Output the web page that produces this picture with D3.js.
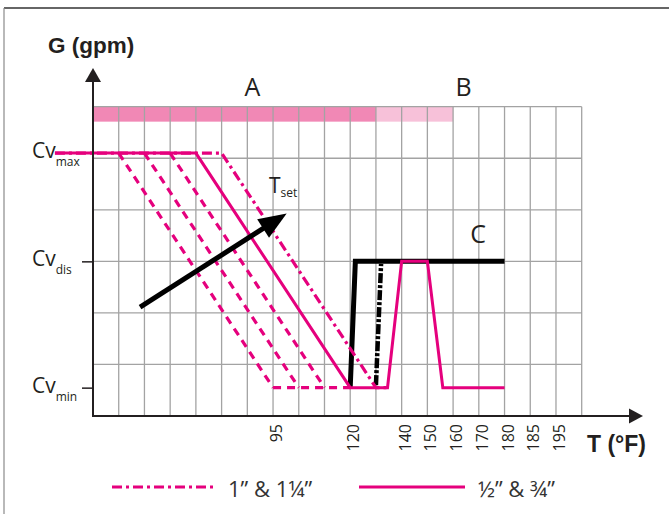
<!DOCTYPE html>
<html>
<head>
<meta charset="utf-8">
<script src="https://cdn.jsdelivr.net/npm/d3@7"></script>
<style>
  body { margin: 0; background: #fff; }
  svg { display: block; }
</style>
</head>
<body>
<svg id="chart"></svg>
<script>
// grid columns (the temperature axis is not linear, so x is in column units)
const nCols = 19;
const nRows = 6;
const tickCols = [7, 10, 12, 13, 14, 15, 16, 17, 18];
const tickLabels = ["95", "120", "140", "150", "160", "170", "180", "185", "195"];

// flow levels, in row units
const cvMin = 0.55;
const cvDis = 3;
const cvMax = 5.1;

// zone bands along the top: [fromCol, toCol]
const bandA = [0, 11];
const bandB = [11, 14];

// curves as [column, level]
const solidPink = [[-1.48, cvMax], [4, cvMax], [10, cvMin], [11.45, cvMin], [12, cvDis], [13, cvDis], [13.6, cvMin], [16, cvMin]];
const dashDotPink = [[-1.48, cvMax], [5, cvMax], [11, cvMin], [11.45, cvMin]];
const tsetLines = [
    [[1, cvMax], [7, cvMin]],
    [[2, cvMax], [8, cvMin]],
    [[3, cvMax], [9, cvMin]],
    [[7, cvMin], [10, cvMin]]
];
const blackSolid = [[10, cvMin], [10.2, cvDis], [16, cvDis]];
const blackDashDot = [[11, cvMin + 0.05], [11.2, cvDis - 0.05]];
const tsetArrow = [[1.83, 2.11], [7.53, 3.93]];

const pink = "#e5007d";
const ink = "#231f20";

var svg = d3.select("#chart")
    .attr("width", 669)
    .attr("height", 514);

var x = d3.scaleLinear().domain([0, nCols]).range([93, 581.7]);
var y = d3.scaleLinear().domain([0, nRows]).range([416, 106.7]);
var line = d3.line().x(d => x(d[0])).y(d => y(d[1]));

// outer frame (top and left only)
svg.append("line").attr("x1", 4).attr("x2", 669).attr("y1", 8).attr("y2", 8)
    .attr("stroke", "#333").attr("stroke-width", 1.5);
svg.append("line").attr("x1", 4).attr("x2", 4).attr("y1", 8).attr("y2", 514)
    .attr("stroke", "#8a8a8a").attr("stroke-width", 1.2);

// bands
svg.append("rect")
    .attr("x", x(bandA[0])).attr("width", x(bandA[1]) - x(bandA[0]))
    .attr("y", y(6)).attr("height", y(5.71) - y(6))
    .attr("fill", "#f188b5");
svg.append("rect")
    .attr("x", x(bandB[0])).attr("width", x(bandB[1]) - x(bandB[0]))
    .attr("y", y(6)).attr("height", y(5.71) - y(6))
    .attr("fill", "#f7c1d9");

// grid
var grid = svg.append("g").attr("stroke", "#a3a3a3").attr("stroke-width", 1.3);
grid.selectAll(".v").data(d3.range(1, nCols + 1)).enter().append("line")
    .attr("x1", d => x(d)).attr("x2", d => x(d))
    .attr("y1", y(nRows)).attr("y2", y(0));
grid.selectAll(".h").data(d3.range(1, nRows + 1)).enter().append("line")
    .attr("x1", x(0)).attr("x2", x(nCols))
    .attr("y1", d => y(d)).attr("y2", d => y(d));

// x tick labels
var xAxis = svg.append("g")
    .attr("transform", "translate(0," + y(0) + ")")
    .call(d3.axisBottom(x)
        .tickValues(tickCols)
        .tickFormat((d, i) => tickLabels[i])
        .tickSize(0));
xAxis.select(".domain").remove();
xAxis.selectAll("text")
    .attr("font-family", "'Open Sans', sans-serif")
    .attr("font-size", 16)
    .attr("fill", ink)
    .attr("text-anchor", "end")
    .attr("transform", "translate(3,8) rotate(-90)")
    .attr("x", 0).attr("y", 0).attr("dy", "0.35em");

// y ticks at Cv_dis and Cv_min
var yAxis = svg.append("g")
    .attr("transform", "translate(" + x(0) + ",0)")
    .call(d3.axisLeft(y).tickValues([cvDis, cvMin]).tickSize(11).tickFormat(""));
yAxis.select(".domain").remove();
yAxis.selectAll("line").attr("stroke", ink).attr("stroke-width", 1.5);

// black curves
svg.append("path").datum(blackSolid).attr("d", line)
    .attr("fill", "none").attr("stroke", "#000").attr("stroke-width", 5);
svg.append("path").datum(blackDashDot).attr("d", line)
    .attr("fill", "none").attr("stroke", "#000").attr("stroke-width", 4.5)
    .attr("stroke-dasharray", "10,2,3,2");

// pink curves
svg.selectAll(".tset").data(tsetLines).enter().append("path")
    .attr("d", line)
    .attr("fill", "none").attr("stroke", pink).attr("stroke-width", 3.2)
    .attr("stroke-dasharray", "8,6");
svg.append("path").datum(dashDotPink).attr("d", line)
    .attr("fill", "none").attr("stroke", pink).attr("stroke-width", 3.2)
    .attr("stroke-dasharray", "10,4,3,4");
svg.append("path").datum(solidPink).attr("d", line)
    .attr("fill", "none").attr("stroke", pink).attr("stroke-width", 3)
    .attr("stroke-linejoin", "miter");

// Tset arrow
var a0 = [x(tsetArrow[0][0]), y(tsetArrow[0][1])];
var a1 = [x(tsetArrow[1][0]), y(tsetArrow[1][1])];
var ang = Math.atan2(a1[1] - a0[1], a1[0] - a0[0]);
var headLen = 28, headW = 11;
var base = [a1[0] - headLen * Math.cos(ang), a1[1] - headLen * Math.sin(ang)];
svg.append("line")
    .attr("x1", a0[0]).attr("y1", a0[1]).attr("x2", base[0] + 3 * Math.cos(ang)).attr("y2", base[1] + 3 * Math.sin(ang))
    .attr("stroke", "#000").attr("stroke-width", 5);
svg.append("polygon")
    .attr("points", [
        a1,
        [base[0] + headW * Math.sin(ang), base[1] - headW * Math.cos(ang)],
        [base[0] - headW * Math.sin(ang), base[1] + headW * Math.cos(ang)]
    ].map(p => p.join(",")).join(" "))
    .attr("fill", "#000");

// axes with arrows
svg.append("line").attr("x1", x(0)).attr("x2", x(0)).attr("y1", y(0) + 1).attr("y2", 78)
    .attr("stroke", ink).attr("stroke-width", 2);
svg.append("polygon").attr("points", [[x(0), 68], [x(0) - 8, 82], [x(0) + 8, 82]].map(p => p.join(",")).join(" "))
    .attr("fill", ink);
svg.append("line").attr("x1", x(0) - 1).attr("x2", 632).attr("y1", y(0)).attr("y2", y(0))
    .attr("stroke", ink).attr("stroke-width", 2);
svg.append("polygon").attr("points", [[643, y(0)], [629, y(0) - 7.5], [629, y(0) + 7.5]].map(p => p.join(",")).join(" "))
    .attr("fill", ink);

// axis titles
svg.append("text").attr("x", 48).attr("y", 53)
    .attr("font-family", "'Liberation Sans', Arial, sans-serif").attr("font-weight", "bold")
    .attr("font-size", 22.5).attr("fill", ink).text("G (gpm)");
svg.append("text").attr("x", 587).attr("y", 452)
    .attr("font-family", "'Liberation Sans', Arial, sans-serif").attr("font-weight", "bold")
    .attr("font-size", 23).attr("fill", ink).text("T (°F)");

// Cv labels
var cvLabels = [["max", cvMax], ["dis", cvDis], ["min", cvMin]];
cvLabels.forEach(function (c) {
    var t = svg.append("text")
        .attr("x", 32).attr("y", y(c[1]) + 5)
        .attr("font-family", "'Open Sans', sans-serif").attr("fill", ink);
    t.append("tspan").attr("font-size", 21).text("Cv");
    t.append("tspan").attr("font-size", 12).attr("dy", 8).text(c[0]);
});

// Tset label
var ts = svg.append("text").attr("x", 269).attr("y", 193)
    .attr("font-family", "'Open Sans', sans-serif").attr("fill", ink);
ts.append("tspan").attr("font-size", 21).text("T");
ts.append("tspan").attr("font-size", 12).attr("dy", 4).text("set");

// zone letters
var zones = [["A", 252.5, 96], ["B", 463.5, 96], ["C", 478, 243]];
svg.selectAll(".zone").data(zones).enter().append("text")
    .attr("x", d => d[1]).attr("y", d => d[2])
    .attr("text-anchor", "middle")
    .attr("font-family", "'Open Sans', sans-serif").attr("font-size", 25)
    .attr("fill", ink).text(d => d[0]);

// legend
var legend = [
    { label: "1” & 1¼”", dash: "10,4,3,4", x0: 112, x1: 215, tx: 228 },
    { label: "½” & ¾”", dash: null, x0: 359, x1: 465, tx: 478 }
];
legend.forEach(function (l) {
    svg.append("line").attr("x1", l.x0).attr("x2", l.x1).attr("y1", 487).attr("y2", 487)
        .attr("stroke", pink).attr("stroke-width", 3.2)
        .attr("stroke-dasharray", l.dash);
    svg.append("text").attr("x", l.tx).attr("y", 497)
        .attr("font-family", "'Open Sans', sans-serif").attr("font-size", 22)
        .attr("fill", "#333").text(l.label);
});
</script>
</body>
</html>
